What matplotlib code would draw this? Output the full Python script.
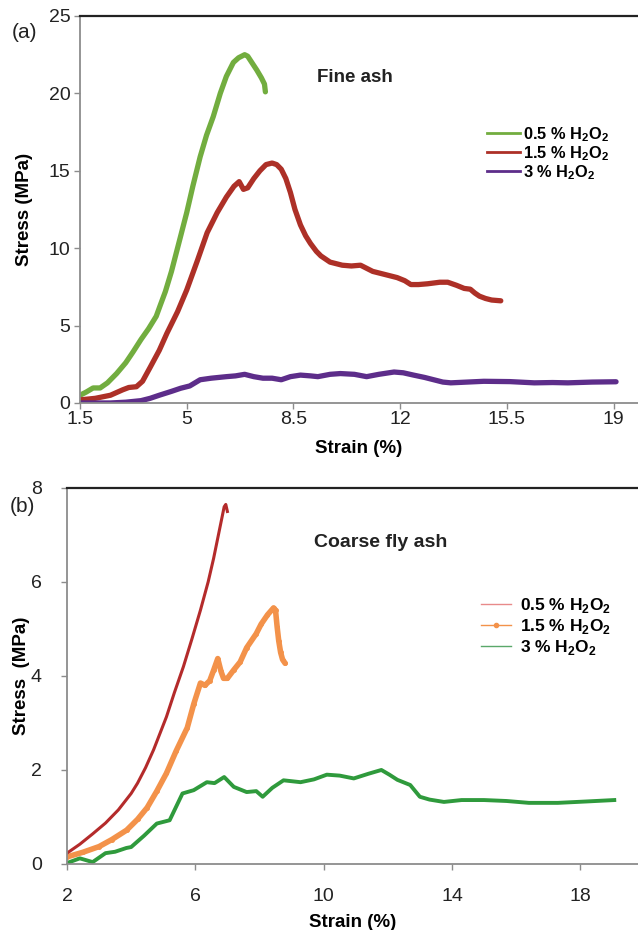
import numpy as np
import matplotlib
matplotlib.use('Agg')
import matplotlib.pyplot as plt
from matplotlib.lines import Line2D

plt.rcParams['font.family'] = ['Liberation Sans', 'DejaVu Sans']
plt.rcParams['mathtext.fontset'] = 'custom'
plt.rcParams['mathtext.rm'] = 'Liberation Sans'
plt.rcParams['mathtext.bf'] = 'Liberation Sans:bold'

# (a) fine ash, strain (%) vs stress (MPa)
a_green_x = [1.5, 1.7, 1.93, 2.16, 2.4, 2.7, 3.0, 3.24, 3.5, 3.75, 4.0, 4.13, 4.3, 4.5, 4.79, 5.0, 5.2, 5.44, 5.65, 5.87, 6.1, 6.3, 6.53, 6.7, 6.9, 7.0, 7.1, 7.3, 7.45, 7.55, 7.58]
a_green_y = [0.5, 0.7, 0.97, 0.97, 1.3, 1.9, 2.6, 3.3, 4.1, 4.8, 5.6, 6.3, 7.2, 8.5, 10.7, 12.3, 14.0, 15.9, 17.3, 18.5, 20.0, 21.1, 22.0, 22.3, 22.5, 22.4, 22.1, 21.5, 21.0, 20.6, 20.1]

a_red_x = [1.5, 2.0, 2.5, 2.9, 3.1, 3.35, 3.55, 3.8, 4.1, 4.35, 4.7, 5.0, 5.35, 5.67, 6.0, 6.3, 6.55, 6.72, 6.86, 7.0, 7.2, 7.4, 7.6, 7.8, 7.95, 8.1, 8.25, 8.4, 8.55, 8.73, 8.9, 9.06, 9.25, 9.4, 9.7, 10.1, 10.4, 10.7, 10.9, 11.1, 11.5, 11.9, 12.15, 12.35, 12.6, 12.9, 13.3, 13.56, 13.85, 14.1, 14.3, 14.45, 14.6, 14.8, 15.0, 15.3]
a_red_y = [0.2, 0.3, 0.5, 0.85, 1.0, 1.05, 1.4, 2.3, 3.4, 4.5, 5.9, 7.3, 9.2, 11.0, 12.3, 13.3, 14.0, 14.3, 13.8, 13.9, 14.5, 15.0, 15.4, 15.5, 15.4, 15.1, 14.5, 13.6, 12.5, 11.5, 10.8, 10.3, 9.8, 9.5, 9.1, 8.9, 8.85, 8.9, 8.7, 8.5, 8.3, 8.1, 7.9, 7.65, 7.65, 7.7, 7.8, 7.8, 7.6, 7.4, 7.35, 7.1, 6.9, 6.75, 6.65, 6.6]

a_purple_x = [1.5, 2.5, 3.0, 3.5, 3.8, 4.1, 4.5, 4.8, 5.1, 5.44, 5.8, 6.3, 6.6, 6.9, 7.2, 7.5, 7.8, 8.1, 8.4, 8.73, 9.06, 9.3, 9.7, 10.04, 10.5, 10.9, 11.3, 11.8, 12.1, 12.44, 12.8, 13.1, 13.4, 13.66, 14.2, 14.74, 15.6, 16.4, 17.0, 17.5, 18.3, 19.08]
a_purple_y = [0.0, 0.0, 0.05, 0.15, 0.3, 0.5, 0.75, 0.95, 1.1, 1.5, 1.6, 1.7, 1.75, 1.85, 1.7, 1.6, 1.6, 1.5, 1.7, 1.8, 1.75, 1.7, 1.85, 1.9, 1.85, 1.7, 1.85, 2.0, 1.95, 1.8, 1.65, 1.5, 1.35, 1.3, 1.35, 1.4, 1.38, 1.3, 1.32, 1.3, 1.35, 1.37]

# (b) coarse fly ash
b_red_x = [2.0, 2.4, 2.8, 3.2, 3.6, 4.0, 4.2, 4.45, 4.7, 4.9, 5.1, 5.35, 5.63, 5.9, 6.16, 6.4, 6.57, 6.75, 6.9, 6.95, 7.0]
b_red_y = [0.23, 0.42, 0.64, 0.87, 1.15, 1.5, 1.72, 2.05, 2.43, 2.78, 3.13, 3.65, 4.2, 4.8, 5.4, 6.0, 6.5, 7.1, 7.6, 7.65, 7.5]

b_orange_x = [2.0, 2.5, 3.0, 3.4, 3.86, 4.2, 4.5, 4.8, 5.1, 5.4, 5.75, 5.95, 6.16, 6.3, 6.45, 6.57, 6.7, 6.8, 6.88, 7.0, 7.2, 7.4, 7.6, 7.9, 8.05, 8.25, 8.44, 8.5, 8.55, 8.6, 8.66, 8.72, 8.8]
b_orange_y = [0.15, 0.25, 0.37, 0.52, 0.72, 0.95, 1.2, 1.55, 1.93, 2.4, 2.9, 3.4, 3.85, 3.8, 3.9, 4.12, 4.37, 4.1, 3.95, 3.95, 4.13, 4.3, 4.6, 4.9, 5.1, 5.3, 5.45, 5.4, 5.05, 4.75, 4.5, 4.35, 4.27]

b_green_x = [2.0, 2.4, 2.8, 3.2, 3.5, 3.85, 4.0, 4.4, 4.8, 5.2, 5.6, 5.95, 6.36, 6.6, 6.9, 7.2, 7.6, 7.9, 8.1, 8.4, 8.75, 9.28, 9.7, 10.1, 10.5, 10.94, 11.4, 11.8, 12.05, 12.3, 12.7, 13.0, 13.3, 13.75, 14.3, 15.0, 15.7, 16.4, 17.3, 18.2, 19.06]
b_green_y = [0.02, 0.12, 0.04, 0.23, 0.26, 0.34, 0.36, 0.6, 0.86, 0.93, 1.5, 1.57, 1.74, 1.72, 1.85, 1.64, 1.53, 1.55, 1.43, 1.62, 1.78, 1.74, 1.8, 1.9, 1.88, 1.82, 1.92, 2.0, 1.9, 1.79, 1.68, 1.43, 1.37, 1.32, 1.36, 1.36, 1.34, 1.3, 1.3, 1.33, 1.36]

a_xticks = [1.5, 5, 8.5, 12, 15.5, 19]
a_yticks = [0, 5, 10, 15, 20, 25]
b_xticks = [2, 6, 10, 14, 18]
b_yticks = [0, 2, 4, 6, 8]

labels = [r'0.5 % H$_\mathbf{2}$O$_\mathbf{2}$',
          r'1.5 % H$_\mathbf{2}$O$_\mathbf{2}$',
          r'3 % H$_\mathbf{2}$O$_\mathbf{2}$']

fig = plt.figure(figsize=(6.38, 9.30), dpi=100)
ax1 = fig.add_axes([0.1254, 0.5667, 0.8746, 0.4161])
ax2 = fig.add_axes([0.105, 0.071, 0.895, 0.4043])


def style_axes(ax, xpad, ypad):
    ax.spines['right'].set_visible(False)
    ax.spines['top'].set_color('#222222')
    ax.spines['top'].set_linewidth(1.6)
    for s in ['left', 'bottom']:
        ax.spines[s].set_color('#8c8c8c')
        ax.spines[s].set_linewidth(1.3)
    ax.tick_params(axis='both', colors='#8c8c8c', labelcolor='#222222',
                   labelsize=14, length=4, width=1)
    ax.tick_params(axis='y', pad=ypad)
    ax.tick_params(axis='x', pad=xpad)


# panel (a)
ax1.plot(a_green_x, a_green_y, color='#72ad3f', lw=3.8, solid_capstyle='round')
ax1.plot(a_red_x, a_red_y, color='#ad3027', lw=3.8, solid_capstyle='round')
ax1.plot(a_purple_x, a_purple_y, color='#5d2d8a', lw=3.8, solid_capstyle='round')
ax1.set_xlim(1.5, 19.8)
ax1.set_ylim(0, 25)
ax1.set_xticks(a_xticks)
ax1.set_xticklabels(['1.5', '5', '8.5', '12', '15.5', '19'])
ax1.set_yticks(a_yticks)
style_axes(ax1, 1.5, 3)
ax1.set_xlabel('Strain (%)', fontsize=13.5, fontweight='bold', labelpad=9)
ax1.set_ylabel('Stress (MPa)', fontsize=13.5, fontweight='bold', labelpad=11)
ax1.text(0.425, 0.842, 'Fine ash', transform=ax1.transAxes, fontsize=13.5,
         fontweight='bold', va='center', ha='left', color='#222222')
h1 = [Line2D([], [], color='#72ad3f', lw=2),
      Line2D([], [], color='#ad3027', lw=2),
      Line2D([], [], color='#5d2d8a', lw=2)]
ax1.legend(h1, labels, loc='upper left', bbox_to_anchor=(0.715, 0.74),
           frameon=False, borderpad=0, handlelength=2.0, handletextpad=0.2,
           labelspacing=0.02, prop={'size': 11.8, 'weight': 'bold'})

# panel (b)
ax2.plot(b_green_x, b_green_y, color='#2f9a3c', lw=2.8)
ax2.plot(b_orange_x, b_orange_y, color='#f3924a', lw=4.0, marker='o',
         markersize=2.5, solid_capstyle='round')
ax2.plot(b_red_x, b_red_y, color='#b42b2b', lw=2.2)
ax2.set_xlim(2, 19.8)
ax2.set_ylim(0, 8)
ax2.set_xticks(b_xticks)
ax2.set_yticks(b_yticks)
style_axes(ax2, 13, 14)
ax2.set_xlabel('Strain (%)', fontsize=13.5, fontweight='bold', labelpad=7)
ax2.set_ylabel('Stress  (MPa)', fontsize=13.5, fontweight='bold', labelpad=1)
ax2.text(0.432, 0.854, 'Coarse fly ash', transform=ax2.transAxes, fontsize=14,
         fontweight='bold', va='center', ha='left', color='#222222')
h2 = [Line2D([], [], color='#e88a8a', lw=1),
      Line2D([], [], color='#f3924a', lw=1, marker='o', markersize=3),
      Line2D([], [], color='#5aa86a', lw=1)]
ax2.legend(h2, labels, loc='upper left', bbox_to_anchor=(0.71, 0.735),
           frameon=False, borderpad=0, handlelength=1.75, handletextpad=0.5,
           labelspacing=0.12, prop={'size': 12.5, 'weight': 'bold'})

fig.text(0.018, 0.965, '(a)', fontsize=15, va='center', color='#222222')
fig.text(0.016, 0.455, '(b)', fontsize=15, va='center', color='#222222')

fig.savefig('out.png', dpi=100)
